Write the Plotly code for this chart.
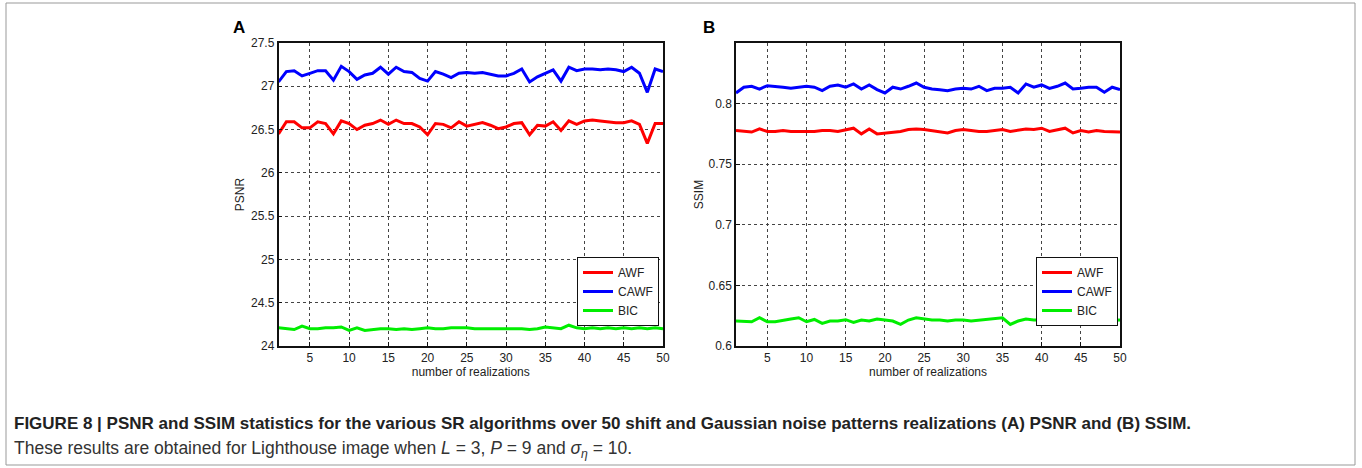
import plotly.graph_objects as go

realizations = list(range(1, 51))

psnr_awf = [26.45, 26.59, 26.59, 26.52, 26.52, 26.59, 26.57, 26.45, 26.60, 26.57,
            26.50, 26.55, 26.57, 26.61, 26.56, 26.61, 26.57, 26.57, 26.53, 26.44,
            26.57, 26.56, 26.52, 26.59, 26.54, 26.56, 26.58, 26.55, 26.51, 26.53,
            26.57, 26.58, 26.44, 26.55, 26.54, 26.59, 26.49, 26.60, 26.56, 26.60,
            26.61, 26.60, 26.59, 26.58, 26.58, 26.60, 26.56, 26.34, 26.57, 26.57]
psnr_cawf = [27.05, 27.17, 27.18, 27.12, 27.15, 27.18, 27.18, 27.07, 27.23, 27.17,
             27.08, 27.13, 27.15, 27.22, 27.14, 27.22, 27.17, 27.16, 27.09, 27.06,
             27.17, 27.14, 27.10, 27.15, 27.16, 27.15, 27.16, 27.14, 27.12, 27.12,
             27.15, 27.20, 27.05, 27.11, 27.15, 27.19, 27.06, 27.22, 27.18, 27.20,
             27.20, 27.19, 27.20, 27.19, 27.17, 27.22, 27.15, 26.93, 27.20, 27.17]
psnr_bic = [24.21, 24.20, 24.19, 24.23, 24.20, 24.20, 24.21, 24.21, 24.22, 24.18,
            24.21, 24.18, 24.19, 24.20, 24.20, 24.19, 24.20, 24.19, 24.20, 24.21,
            24.20, 24.20, 24.21, 24.21, 24.21, 24.20, 24.20, 24.20, 24.20, 24.20,
            24.20, 24.20, 24.19, 24.20, 24.22, 24.21, 24.20, 24.24, 24.21, 24.20,
            24.21, 24.20, 24.21, 24.20, 24.21, 24.20, 24.21, 24.20, 24.21, 24.20]

ssim_awf = [0.7778, 0.7770, 0.7765, 0.7791, 0.7770, 0.7770, 0.7778, 0.7770, 0.7770, 0.7770,
            0.7770, 0.7778, 0.7778, 0.7770, 0.7786, 0.7797, 0.7750, 0.7790, 0.7750, 0.7758,
            0.7765, 0.7770, 0.7786, 0.7790, 0.7786, 0.7778, 0.7770, 0.7758, 0.7778, 0.7786,
            0.7778, 0.7770, 0.7770, 0.7778, 0.7786, 0.7770, 0.7778, 0.7790, 0.7786, 0.7797,
            0.7770, 0.7786, 0.7797, 0.7758, 0.7778, 0.7765, 0.7778, 0.7770, 0.7765, 0.7765]
ssim_cawf = [0.8088, 0.8135, 0.8143, 0.8120, 0.8148, 0.8143, 0.8135, 0.8126, 0.8135, 0.8143,
             0.8135, 0.8107, 0.8143, 0.8154, 0.8135, 0.8162, 0.8120, 0.8154, 0.8115, 0.8088,
             0.8135, 0.8120, 0.8143, 0.8170, 0.8135, 0.8120, 0.8115, 0.8107, 0.8120, 0.8126,
             0.8120, 0.8143, 0.8107, 0.8126, 0.8126, 0.8135, 0.8088, 0.8162, 0.8135, 0.8154,
             0.8126, 0.8143, 0.8170, 0.8120, 0.8126, 0.8135, 0.8135, 0.8093, 0.8135, 0.8115]
ssim_bic = [0.6206, 0.6206, 0.6200, 0.6233, 0.6200, 0.6200, 0.6208, 0.6222, 0.6233, 0.6200,
            0.6219, 0.6187, 0.6206, 0.6206, 0.6217, 0.6195, 0.6214, 0.6206, 0.6222, 0.6214,
            0.6206, 0.6178, 0.6214, 0.6233, 0.6222, 0.6214, 0.6214, 0.6206, 0.6214, 0.6214,
            0.6206, 0.6214, 0.6222, 0.6228, 0.6233, 0.6178, 0.6206, 0.6222, 0.6214, 0.6214,
            0.6228, 0.6217, 0.6211, 0.6217, 0.6222, 0.6195, 0.6195, 0.6211, 0.6214, 0.6214]

series_names = ["AWF", "CAWF", "BIC"]
series_colors = ["#ff0000", "#0000ff", "#00ee00"]

x_ticks = [5, 10, 15, 20, 25, 30, 35, 40, 45, 50]
psnr_ticks = [24, 24.5, 25, 25.5, 26, 26.5, 27, 27.5]
psnr_ticklabels = ["24", "24.5", "25", "25.5", "26", "26.5", "27", "27.5"]
ssim_ticks = [0.6, 0.65, 0.7, 0.75, 0.8]
ssim_ticklabels = ["0.6", "0.65", "0.7", "0.75", "0.8"]

W, H = 1362, 468
fig = go.Figure()

for name, col, ys in zip(series_names, series_colors, [psnr_awf, psnr_cawf, psnr_bic]):
    fig.add_trace(go.Scatter(x=realizations, y=ys, mode="lines", name=name,
                             line=dict(color=col, width=3), xaxis="x", yaxis="y",
                             legend="legend"))
for name, col, ys in zip(series_names, series_colors, [ssim_awf, ssim_cawf, ssim_bic]):
    fig.add_trace(go.Scatter(x=realizations, y=ys, mode="lines", name=name,
                             line=dict(color=col, width=3), xaxis="x2", yaxis="y2",
                             legend="legend2"))

FONT = "Liberation Sans, Arial, sans-serif"
tickfont = dict(family=FONT, size=12, color="#222")
titlefont = dict(family=FONT, size=12, color="#222")
common_x = dict(range=[1, 50], tickvals=x_ticks, showline=True, linecolor="#111",
                linewidth=1.5, mirror=True, ticks="inside", ticklen=4, tickcolor="#111",
                showgrid=True, gridcolor="#444", griddash="dot", gridwidth=1,
                zeroline=False, tickfont=tickfont, automargin=False,
                title=dict(text="number of realizations", standoff=0, font=titlefont))
common_y = dict(showline=True, linecolor="#111", linewidth=1.5, mirror=True,
                ticks="inside", ticklen=4, tickcolor="#111", showgrid=True,
                gridcolor="#444", griddash="dot", gridwidth=1, zeroline=False,
                tickfont=tickfont, automargin=False)

ydom = [(H - 346) / H, (H - 43) / H]
legfont = dict(family=FONT, size=12, color="#222")
fig.update_layout(
    width=W, height=H, autosize=False,
    margin=dict(l=0, r=0, t=0, b=0, pad=0, autoexpand=False),
    paper_bgcolor="white", plot_bgcolor="white",
    xaxis=dict(domain=[278.5 / W, 663 / W], anchor="y", **common_x),
    xaxis2=dict(domain=[736 / W, 1120 / W], anchor="y2", **common_x),
    yaxis=dict(domain=ydom, anchor="x", range=[24, 27.5], tickvals=psnr_ticks,
               ticktext=psnr_ticklabels,
               title=dict(text="PSNR", standoff=4, font=titlefont),
               **common_y),
    yaxis2=dict(domain=ydom, anchor="x2", range=[0.6, 0.85], tickvals=ssim_ticks,
                ticktext=ssim_ticklabels,
                title=dict(text="SSIM", standoff=2, font=titlefont),
                **common_y),
    legend=dict(x=577 / W, y=(H - 257) / H, xanchor="left", yanchor="top",
                bordercolor="#111", borderwidth=1, bgcolor="white",
                font=legfont, tracegroupgap=0, itemwidth=30),
    legend2=dict(x=1036 / W, y=(H - 257) / H, xanchor="left", yanchor="top",
                 bordercolor="#111", borderwidth=1, bgcolor="white",
                 font=legfont, tracegroupgap=0, itemwidth=30),
    showlegend=True,
)

# outer frame
fig.add_shape(type="rect", xref="paper", yref="paper",
              x0=6 / W, x1=1355 / W, y0=(H - 465) / H, y1=(H - 3) / H,
              line=dict(color="#999", width=1), fillcolor="rgba(0,0,0,0)", layer="below")

fig.add_annotation(text="<b>A</b>", xref="paper", yref="paper", x=231 / W, y=(H - 27) / H,
                   xanchor="left", yanchor="middle", showarrow=False,
                   font=dict(family=FONT, size=17, color="#000"))
fig.add_annotation(text="<b>B</b>", xref="paper", yref="paper", x=701 / W, y=(H - 27) / H,
                   xanchor="left", yanchor="middle", showarrow=False,
                   font=dict(family=FONT, size=17, color="#000"))
fig.add_annotation(text="<b>FIGURE 8 | PSNR and SSIM statistics for the various SR algorithms over 50 shift and Gaussian noise patterns realizations (A) PSNR and (B) SSIM.</b>",
                   xref="paper", yref="paper", x=12 / W, y=(H - 423) / H,
                   xanchor="left", yanchor="middle", showarrow=False,
                   font=dict(family=FONT, size=17, color="#222"))
fig.add_annotation(text="These results are obtained for Lighthouse image when <i>L</i> = 3, <i>P</i> = 9 and <i>σ<sub>η</sub></i> = 10.",
                   xref="paper", yref="paper", x=12 / W, y=(H - 449) / H,
                   xanchor="left", yanchor="middle", showarrow=False,
                   font=dict(family=FONT, size=17.5, color="#333"))

fig.write_html("out.html", config={"displayModeBar": False},
               post_script="document.body.style.margin='0px';document.body.style.overflow='hidden';")
